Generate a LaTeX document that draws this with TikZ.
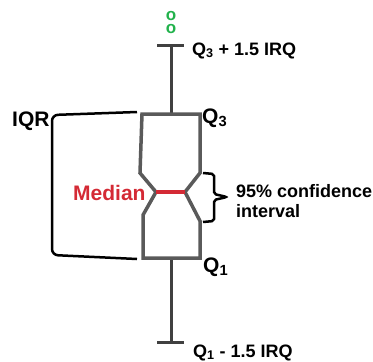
\documentclass[tikz,border=0pt]{standalone}
\usepackage{fontspec}
\setmainfont{Liberation Sans}
\definecolor{boxgray}{HTML}{5A5A5A}
\definecolor{whiskgray}{HTML}{404040}
\definecolor{medred}{HTML}{D42A35}
\definecolor{outgreen}{HTML}{22B24C}

\begin{document}
\begin{tikzpicture}[x=1pt, y=-1pt,
    boxln/.style={boxgray, line width=3.5pt},
    whisk/.style={whiskgray, line width=3pt},
    lbl/.style={inner sep=0pt, anchor=base west, font=\bfseries\fontsize{18}{20}\selectfont},
    biglbl/.style={inner sep=0pt, anchor=base west, font=\bfseries\fontsize{21}{24}\selectfont}]
  \useasboundingbox (0,0) rectangle (373,362);
  % 离群点
  \node[outgreen, inner sep=0pt, align=center, anchor=base,
    font=\bfseries\fontsize{17}{13}\selectfont] (outl) at (171,33) {o\\o};
  % 须线
  \draw[whisk] (171,46) -- (171,113);
  \draw[whisk] (171,258) -- (171,342);
  \foreach \y in {45, 342}
    \draw[whisk] (157,\y) -- (184,\y);
  % 箱体（带缺口）
  \coordinate (ML) at (156,192);
  \coordinate (MR) at (185,192);
  \draw[boxln] (142,114) -- (200,114) -- (200,173) -- (MR) -- (200,221)
    -- (200,258) -- (143,258) -- (143,215) -- (ML) -- (140,173) -- cycle;
  \draw[medred, line width=3.5pt] (ML) -- (MR);
  % IQR 括号
  \draw[line width=2.5pt, rounded corners=6pt] (137,112) -- (52,115) -- (52,255) -- (137,259);
  % 置信区间括号
  \draw[line width=2.5pt, rounded corners=2pt] (203,173) -- (214,174) -- (214,194)
    -- (227,197) -- (214,200) -- (214,221) -- (203,222);
  % 标注
  \node[lbl] (up) at (192,55) {Q\textsubscript{3} + 1.5 IRQ};
  \node[lbl] (low) at (193,357) {Q\textsubscript{1} - 1.5 IRQ};
  \node[biglbl] (q3) at (202,123) {Q\textsubscript{3}};
  \node[biglbl] (q1) at (203,272) {Q\textsubscript{1}};
  \node[biglbl] (iqr) at (12,126) {IQR};
  \node[biglbl, medred] (med) at (73,200) {Median};
  \node[lbl] (ci) at (236,197) {95\% confidence};
  \node[lbl] (ci2) at (236,217) {interval};
\end{tikzpicture}
\end{document}
